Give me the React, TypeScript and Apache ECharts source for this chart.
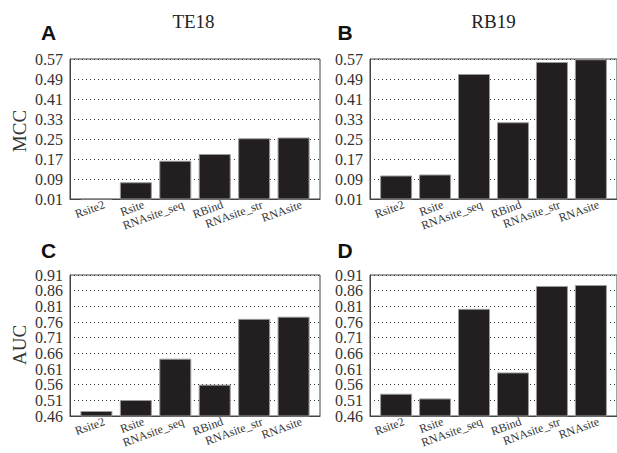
import React, { useEffect, useRef } from "react";
import * as echarts from "echarts";

const categories = ["Rsite2", "Rsite", "RNAsite_seq", "RBind", "RNAsite_str", "RNAsite"];
const mccTE18 = [0.013, 0.077, 0.163, 0.19, 0.253, 0.256];
const mccRB19 = [0.104, 0.108, 0.51, 0.317, 0.558, 0.569];
const aucTE18 = [0.476, 0.511, 0.643, 0.56, 0.77, 0.777];
const aucRB19 = [0.531, 0.516, 0.802, 0.599, 0.875, 0.878];
const mccRange = { min: 0.01, max: 0.57, interval: 0.08 };
const aucRange = { min: 0.46, max: 0.91, interval: 0.05 };
const titles = ["TE18", "RB19"];
const panelLetters = ["A", "B", "C", "D"];
const yNames = ["MCC", "AUC"];

export default function App() {
  const ref = useRef<HTMLDivElement>(null);
  useEffect(() => {
    if (!ref.current) return;
    const chart = echarts.init(ref.current, null, { renderer: "svg" });
    const panels = [
      { data: mccTE18, range: mccRange, left: 70, top: 59, height: 140 },
      { data: mccRB19, range: mccRange, left: 370, top: 59, height: 140 },
      { data: aucTE18, range: aucRange, left: 70, top: 275, height: 141 },
      { data: aucRB19, range: aucRange, left: 370, top: 275, height: 141 },
    ];
    const serif = "'Liberation Serif', serif";
    const grids = panels.map((p) => ({
      left: p.left,
      top: p.top,
      width: 250,
      height: p.height,
      show: true,
      borderColor: "#444",
      borderWidth: 1,
      backgroundColor: "transparent",
    }));
    const xAxes = panels.map((p, i) => ({
      type: "value",
      gridIndex: i,
      min: 0.33,
      max: 6.67,
      splitLine: { show: false },
      axisTick: { show: false },
      axisLine: { show: true, lineStyle: { color: "#444" } },
      axisLabel: {
        customValues: categories.map((_, k) => k + 1.2),
        formatter: (v: number) => categories[Math.round(v - 1.2)] ?? "",
        rotate: 20,
        fontFamily: serif,
        fontSize: 12,
        color: "#333",
        margin: 5,
      },
    }));
    const labelStyle = {
      formatter: (v: number) => v.toFixed(2),
      fontFamily: serif,
      fontSize: 16,
      color: "#333",
      margin: 7,
      hideOverlap: false,
    };
    const yAxes: any[] = [];
    panels.forEach((p, i) => {
      const ticks: number[] = [];
      for (let k = 0; p.range.min + k * p.range.interval <= p.range.max + 1e-9; k++) {
        ticks.push(+(p.range.min + k * p.range.interval).toFixed(2));
      }
      yAxes.push({
        type: "value",
        gridIndex: i,
        position: "left",
        min: p.range.min,
        max: p.range.max,
        interval: p.range.interval,
        axisLine: { show: true, lineStyle: { color: "#444" } },
        axisTick: { show: false },
        splitLine: { show: true, lineStyle: { type: [1, 3], color: "#333", width: 1 } },
        axisLabel: {
          ...labelStyle,
          customValues: ticks,
          showMinLabel: false,
          showMaxLabel: false,
        },
      });
    });
    panels.forEach((p, i) => {
      yAxes.push({
        type: "value",
        gridIndex: i,
        position: "left",
        offset: 0,
        min: p.range.min,
        max: p.range.max,
        interval: p.range.interval,
        axisLine: { show: false },
        axisTick: { show: false },
        splitLine: { show: false },
        axisLabel: {
          ...labelStyle,
          customValues: [p.range.min, p.range.max],
          showMinLabel: true,
          showMaxLabel: true,
        },
      });
    });
    const series = panels.map((p, i) => ({
      type: "bar",
      xAxisIndex: i,
      yAxisIndex: i,
      barWidth: 32,
      data: p.data.map((v, k) => [k + 1, v]),
      itemStyle: { color: "#231f20", borderColor: "#9a9a9a", borderWidth: 1 },
    }));
    const letterPos = [
      [48.5, 32.5],
      [345, 32.5],
      [48.5, 250.5],
      [345, 250.5],
    ];
    const graphic: any[] = [];
    panelLetters.forEach((l, i) => {
      graphic.push({
        type: "text",
        x: letterPos[i][0],
        y: letterPos[i][1],
        style: {
          text: l,
          font: "bold 21px 'Liberation Sans'",
          fill: "#111",
          textAlign: "center",
          textVerticalAlign: "middle",
        },
      });
    });
    titles.forEach((t, i) => {
      graphic.push({
        type: "text",
        x: i === 0 ? 193.5 : 493.5,
        y: 21,
        style: {
          text: t,
          font: "19px 'Liberation Serif'",
          fill: "#222",
          textAlign: "center",
          textVerticalAlign: "middle",
        },
      });
    });
    yNames.forEach((n, i) => {
      graphic.push({
        type: "text",
        x: 19,
        y: i === 0 ? 131 : 345,
        rotation: Math.PI / 2,
        style: {
          text: n,
          font: "19px 'Liberation Serif'",
          fill: "#333",
          textAlign: "center",
          textVerticalAlign: "middle",
        },
      });
    });
    chart.setOption({
      animation: false,
      backgroundColor: "#fff",
      textStyle: { fontFamily: serif },
      grid: grids,
      xAxis: xAxes,
      yAxis: yAxes,
      series,
      graphic,
    } as any);
    return () => chart.dispose();
  }, []);
  return (
    <div
      ref={ref}
      style={{ position: "fixed", left: 0, top: 0, width: 617, height: 453 }}
    />
  );
}
